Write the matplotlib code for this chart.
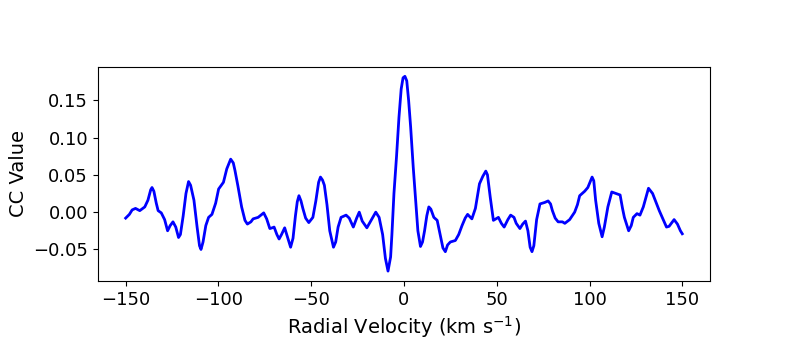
import numpy as np
import matplotlib
matplotlib.use('Agg')
import matplotlib.pyplot as plt

# radial velocity grid (km/s) and cross-correlation values
velocity = [-150.0, -148.0, -146.5, -144.7, -142.4, -139.7, -138.0, -136.5, -135.8, -134.8,
            -133.5, -132.5, -130.8, -129.0, -127.4, -126.0, -124.5, -123.0, -121.5, -120.5,
            -119.0, -117.5, -116.1, -115.0, -113.2, -111.5, -110.2, -109.4, -108.3, -106.8,
            -105.3, -103.5, -101.5, -99.9, -97.3, -95.5, -93.4, -92.0, -91.1, -89.5,
            -87.5, -85.7, -84.4, -82.5, -81.3, -78.6, -75.6, -74.0, -72.3, -71.0,
            -70.0, -68.5, -67.3, -66.0, -64.3, -62.8, -61.1, -59.8, -58.5, -57.5,
            -56.6, -55.5, -54.5, -53.0, -51.3, -49.1, -47.5, -46.0, -45.0, -43.9,
            -42.9, -41.5, -40.0, -38.0, -36.8, -35.5, -33.9, -31.2, -29.5, -27.3,
            -25.5, -24.1, -22.5, -20.0, -17.5, -15.2, -13.4, -11.5, -10.0, -8.6,
            -7.2, -6.5, -5.4, -4.0, -2.7, -1.5, -0.5, 0.5, 1.5, 2.5,
            3.6, 5.0, 6.3, 7.5, 8.9, 10.0, 11.1, 12.3, 13.4, 14.5,
            16.1, 17.9, 19.5, 21.0, 22.3, 23.5, 25.0, 27.7, 29.5, 31.3,
            33.0, 34.3, 36.6, 38.5, 40.7, 42.5, 44.1, 45.0, 46.5, 48.2,
            50.9, 52.5, 54.0, 56.0, 57.5, 59.3, 60.5, 62.5, 64.0, 65.5,
            66.8, 68.0, 69.0, 70.0, 71.5, 73.3, 75.9, 77.7, 79.0, 80.0,
            81.5, 83.1, 85.4, 86.7, 89.3, 92.0, 93.5, 94.7, 97.4, 99.1,
            101.4, 102.3, 103.3, 105.0, 106.8, 108.0, 109.9, 112.0, 114.3, 116.5,
            117.8, 118.8, 121.1, 122.5, 123.6, 125.6, 127.2, 129.0, 131.8, 134.0,
            137.6, 141.5, 142.9, 145.6, 147.4, 149.0, 150.0]
cc_value = [-0.008, -0.003, 0.003, 0.005, 0.002, 0.007, 0.016, 0.030, 0.033, 0.028,
            0.012, 0.002, -0.001, -0.010, -0.025, -0.018, -0.013, -0.020, -0.034, -0.030,
            -0.005, 0.025, 0.041, 0.036, 0.016, -0.020, -0.045, -0.050, -0.040, -0.018,
            -0.007, -0.003, 0.012, 0.031, 0.040, 0.058, 0.071, 0.066, 0.056, 0.035,
            0.007, -0.011, -0.016, -0.013, -0.009, -0.007, -0.001, -0.009, -0.022, -0.021,
            -0.020, -0.030, -0.036, -0.030, -0.021, -0.033, -0.047, -0.035, -0.005, 0.014,
            0.022, 0.015, 0.005, -0.008, -0.014, -0.007, 0.015, 0.040, 0.047, 0.043,
            0.036, 0.010, -0.025, -0.047, -0.040, -0.020, -0.007, -0.004, -0.008, -0.020,
            -0.008, 0.000, -0.012, -0.021, -0.010, 0.000, -0.007, -0.030, -0.062, -0.079,
            -0.060, -0.030, 0.025, 0.075, 0.127, 0.165, 0.180, 0.182, 0.176, 0.150,
            0.114, 0.060, 0.016, -0.025, -0.046, -0.040, -0.025, -0.005, 0.007, 0.004,
            -0.007, -0.011, -0.030, -0.048, -0.053, -0.044, -0.040, -0.038, -0.030, -0.018,
            -0.008, -0.003, -0.009, 0.005, 0.038, 0.048, 0.055, 0.050, 0.020, -0.011,
            -0.007, -0.015, -0.020, -0.010, -0.004, -0.007, -0.015, -0.022, -0.016, -0.012,
            -0.025, -0.047, -0.053, -0.045, -0.010, 0.011, 0.013, 0.015, 0.011, 0.002,
            -0.008, -0.013, -0.013, -0.015, -0.010, 0.000, 0.010, 0.022, 0.028, 0.033,
            0.047, 0.042, 0.016, -0.015, -0.033, -0.020, 0.007, 0.027, 0.025, 0.023,
            0.005, -0.007, -0.025, -0.018, -0.007, -0.002, -0.004, 0.007, 0.032, 0.025,
            0.002, -0.020, -0.019, -0.010, -0.016, -0.025, -0.029]

plt.rcParams['font.size'] = 13

fig = plt.figure(figsize=(7.89, 3.45), dpi=100)
ax = fig.add_axes([0.124, 0.186, 0.776, 0.621])
ax.plot(velocity, cc_value, color='blue', linewidth=2, solid_joinstyle='round')
ax.set_xlabel('Radial Velocity (km s$^{-1}$)', fontsize=14)
ax.set_ylabel('CC Value', fontsize=14)
ax.set_xticks([-150, -100, -50, 0, 50, 100, 150])
ax.set_yticks([-0.05, 0.00, 0.05, 0.10, 0.15])

fig.savefig('out.png', dpi=100)
